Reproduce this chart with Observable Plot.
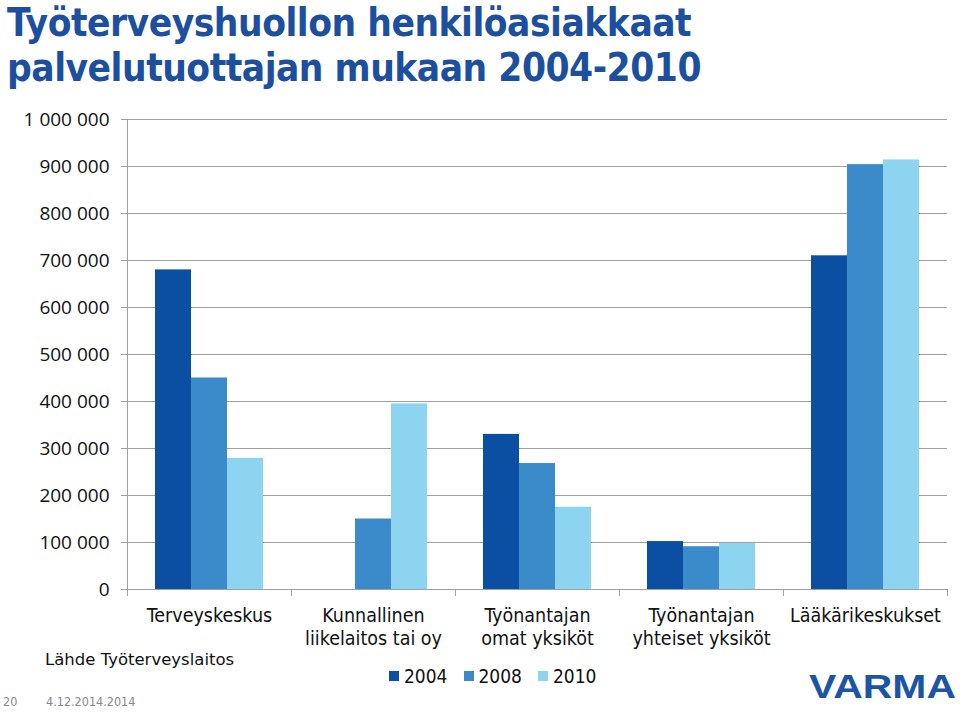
<!DOCTYPE html>
<html><head><meta charset="utf-8">
<script src="https://cdn.jsdelivr.net/npm/d3@7"></script>
<script src="https://cdn.jsdelivr.net/npm/@observablehq/plot@0.6"></script>
<style>
body{margin:0;background:#fff;}
#wrap{position:relative;width:960px;height:712px;overflow:hidden;font-family:"DejaVu Sans Condensed","DejaVu Sans",sans-serif;color:#111;}
#title{position:absolute;left:7px;top:0px;color:#1d4f9f;font-weight:bold;font-size:38.5px;line-height:45px;letter-spacing:-0.5px;white-space:nowrap;}
#chart{position:absolute;left:0;top:100px;}
#legend{position:absolute;top:664px;left:389px;display:flex;font-size:19px;line-height:24px;}
#legend span.item{display:flex;align-items:center;margin-right:16px;}
#legend span.sw{display:inline-block;width:10px;height:10px;margin-right:5px;}
#source{position:absolute;left:45px;top:650px;font-size:16.5px;font-family:"DejaVu Sans",sans-serif;}
#page{position:absolute;left:3px;top:694px;font-size:12.5px;color:#888;}
#date{position:absolute;left:46px;top:694px;font-size:12.5px;color:#888;}
#logo{position:absolute;left:809px;top:668px;}
</style></head>
<body>
<div id="wrap">
  <div id="title">Työterveyshuollon henkilöasiakkaat<br>palvelutuottajan mukaan 2004-2010</div>
  <div id="chart"></div>
  <div id="source">Lähde Työterveyslaitos</div>
  <div id="legend"></div>
  <div id="page">20</div>
  <div id="date">4.12.2014.2014</div>
  <svg id="logo" width="150" height="36"><text x="0" y="30" textLength="147" lengthAdjust="spacingAndGlyphs" font-family="Liberation Sans, sans-serif" font-weight="bold" font-size="34" fill="#1b55a4">VARMA</text></svg>
</div>
<script>
const categories = ["Terveyskeskus", "Kunnallinen\nliikelaitos tai oy", "Työnantajan\nomat yksiköt", "Työnantajan\nyhteiset yksiköt", "Lääkärikeskukset"];
const years = ["2004", "2008", "2010"];
const values2004 = [680000, null, 330000, 102000, 710000];
const values2008 = [450000, 150000, 268000, 91000, 904000];
const values2010 = [279000, 395000, 175000, 98000, 914000];
const yTicks = [0, 100000, 200000, 300000, 400000, 500000, 600000, 700000, 800000, 900000, 1000000];
const colors = ["#0b4fa3", "#3b8bcb", "#8dd4f1"];

const series = [values2004, values2008, values2010];
const data = categories.flatMap((c, i) => years.map((y, j) => ({category: c, year: y, value: series[j][i]})))
  .filter(d => d.value != null);

const fmt = d3.formatLocale({decimal: ",", thousands: " ", grouping: [3], currency: ["", ""]}).format(",");
const grid = "#a0a0a0";

const chart = Plot.plot({
  width: 960, height: 560,
  marginTop: 19, marginBottom: 71, marginLeft: 126, marginRight: 13,
  style: {fontFamily: "'DejaVu Sans Condensed','DejaVu Sans',sans-serif", fontSize: "19px", color: "#111", background: "transparent"},
  fx: {domain: categories, padding: 0, label: null},
  x: {domain: years, paddingInner: 0, paddingOuter: 0.75, axis: null},
  y: {domain: [0, 1000000], label: null},
  color: {domain: years, range: colors},
  marks: [
    Plot.gridY(yTicks, {stroke: grid, strokeOpacity: 1}),
    Plot.barY(data, {fx: "category", x: "year", y: "value", fill: "year"}),
    Plot.frame({anchor: "left", facetAnchor: "left", stroke: grid}),
    Plot.frame({anchor: "bottom", stroke: grid}),
    Plot.frame({anchor: "left", insetTop: 470, insetBottom: -6, stroke: grid}),
    Plot.frame({anchor: "right", insetTop: 470, insetBottom: -6, stroke: grid}),
    Plot.axisY(yTicks, {tickFormat: fmt, tickSize: 6, tickPadding: 12, fontSize: 19, stroke: grid, fill: "#111", fontFamily: "'Open Sans',sans-serif", label: null}),
    Plot.axisFx({anchor: "bottom", tickSize: 0, tickPadding: 17, lineHeight: 1.15, fontSize: 19.5, fill: "#111", label: null})
  ]
});
document.getElementById("chart").appendChild(chart);

const legend = document.getElementById("legend");
years.forEach((y, i) => {
  const item = document.createElement("span");
  item.className = "item";
  const sw = document.createElement("span");
  sw.className = "sw";
  sw.style.background = colors[i];
  item.appendChild(sw);
  item.appendChild(document.createTextNode(y));
  legend.appendChild(item);
});
</script>
</body></html>
